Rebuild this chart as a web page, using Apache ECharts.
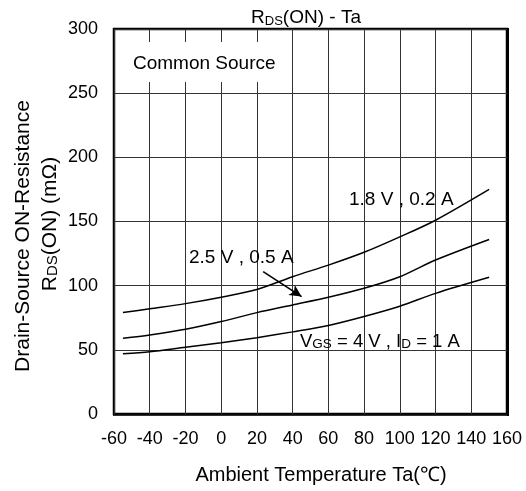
<!DOCTYPE html>
<html><head><meta charset="utf-8">
<script src="https://cdn.jsdelivr.net/npm/echarts@6/dist/echarts.min.js"></script>
<style>html,body{margin:0;padding:0;background:#fff}#c{width:526px;height:491px}</style>
</head><body><div id="c"></div>
<script>
// Data
const temps = [-55, -40, -20, 0, 20, 40, 60, 80, 100, 120, 150];
const r18 = [79, 82, 86, 91, 97, 107, 116, 126, 138, 151, 175];   // 1.8 V, 0.2 A
const r25 = [59, 61.5, 66, 72, 79, 85, 91, 98, 107, 120, 136];     // 2.5 V, 0.5 A
const r40 = [47, 48.5, 52, 55.5, 59.5, 64, 69, 76, 84, 94, 106.5]; // 4 V, 1 A
const xTicks = [-60, -40, -20, 0, 20, 40, 60, 80, 100, 120, 140, 160];
const yTicks = [0, 50, 100, 150, 200, 250, 300];
const arrowFrom = [23.5, 111];
const arrowTo = [45, 91.5];

const FONT = "'Liberation Sans', Arial, sans-serif";
const pair = (xs, ys) => xs.map((x, i) => [x, ys[i]]);
const chart = echarts.init(document.getElementById('c'), null, {renderer: 'canvas'});

const lineSeries = (name, ys) => ({
  name, type: 'line', data: pair(temps, ys), smooth: 0.3, symbol: 'none',
  lineStyle: {color: '#000', width: 1.5}, z: 5, animation: false
});

const s25 = lineSeries('2.5 V, 0.5 A', r25);
s25.markLine = {
  silent: true, animation: false, symbol: ['none', 'arrow'], symbolSize: [9, 12],
  label: {show: false},
  lineStyle: {color: '#000', width: 1.6, type: 'solid'},
  data: [[{coord: arrowFrom}, {coord: arrowTo}]]
};

chart.setOption({
  animation: false,
  backgroundColor: '#fff',
  textStyle: {fontFamily: FONT},
  grid: {left: 114, right: 19, top: 29, bottom: 77, show: true, borderColor: '#000', borderWidth: 2.5, backgroundColor: 'transparent'},
  xAxis: {
    type: 'value', min: xTicks[0], max: xTicks[xTicks.length - 1], interval: 20,
    axisLine: {show: false}, axisTick: {show: false},
    axisLabel: {color: '#000', fontSize: 18, fontFamily: FONT, margin: 16, showMaxLabel: true, showMinLabel: true},
    splitLine: {show: true, lineStyle: {color: '#333', width: 1}}
  },
  yAxis: {
    type: 'value', min: yTicks[0], max: yTicks[yTicks.length - 1], interval: 50,
    axisLine: {show: false}, axisTick: {show: false},
    axisLabel: {color: '#000', fontSize: 18, fontFamily: FONT, margin: 16},
    splitLine: {show: true, lineStyle: {color: '#333', width: 1}}
  },
  series: [lineSeries('1.8 V, 0.2 A', r18), s25, lineSeries('4 V, 1 A', r40)],
  graphic: [
    {type: 'line', z: 60, shape: {x1: 508, y1: 28, x2: 508, y2: 416}, style: {stroke: '#000', lineWidth: 2}},
    {type: 'line', z: 60, shape: {x1: 113, y1: 415, x2: 509, y2: 415}, style: {stroke: '#000', lineWidth: 1.5}},
    {type: 'text', x: 306, y: 18, z: 100, style: {
      text: 'R{s|DS}(ON) - Ta', align: 'center', verticalAlign: 'middle',
      font: '19px ' + FONT, fill: '#000',
      rich: {s: {fontSize: 13, fontFamily: FONT, verticalAlign: 'bottom'}}
    }},
    {type: 'text', x: 23, y: 236, rotation: Math.PI / 2, z: 100, style: {
      text: 'Drain-Source ON-Resistance', align: 'center', verticalAlign: 'middle',
      font: '21px ' + FONT, fill: '#000'
    }},
    {type: 'text', x: 50, y: 224, rotation: Math.PI / 2, z: 100, style: {
      text: 'R{s|DS}(ON) (mΩ)', align: 'center', verticalAlign: 'middle',
      font: '21px ' + FONT, fill: '#000',
      rich: {s: {fontSize: 15, fontFamily: FONT, verticalAlign: 'bottom'}}
    }},
    {type: 'text', x: 321, y: 475, z: 100, style: {
      text: 'Ambient Temperature Ta(℃)', align: 'center', verticalAlign: 'middle',
      font: '20px ' + FONT, fill: '#000'
    }},
    {type: 'rect', z: 50, shape: {x: 128, y: 42, width: 161, height: 40}, style: {fill: '#fff'}},
    {type: 'text', x: 133, y: 64, z: 100, style: {
      text: 'Common Source', align: 'left', verticalAlign: 'middle',
      font: '19px ' + FONT, fill: '#000'
    }},
    {type: 'text', x: 349, y: 200, z: 100, style: {
      text: '1.8 V , 0.2 A', align: 'left', verticalAlign: 'middle',
      font: '19px ' + FONT, fill: '#000'
    }},
    {type: 'text', x: 189, y: 258, z: 100, style: {
      text: '2.5 V , 0.5 A', align: 'left', verticalAlign: 'middle',
      font: '19px ' + FONT, fill: '#000'
    }},
    {type: 'text', x: 300, y: 342, z: 100, style: {
      text: 'V{s|GS} = 4 V , I{s|D} = 1 A', align: 'left', verticalAlign: 'middle',
      font: '18.5px ' + FONT, fill: '#000',
      rich: {s: {fontSize: 13.5, fontFamily: FONT, verticalAlign: 'bottom'}}
    }}
  ]
});
</script></body></html>
